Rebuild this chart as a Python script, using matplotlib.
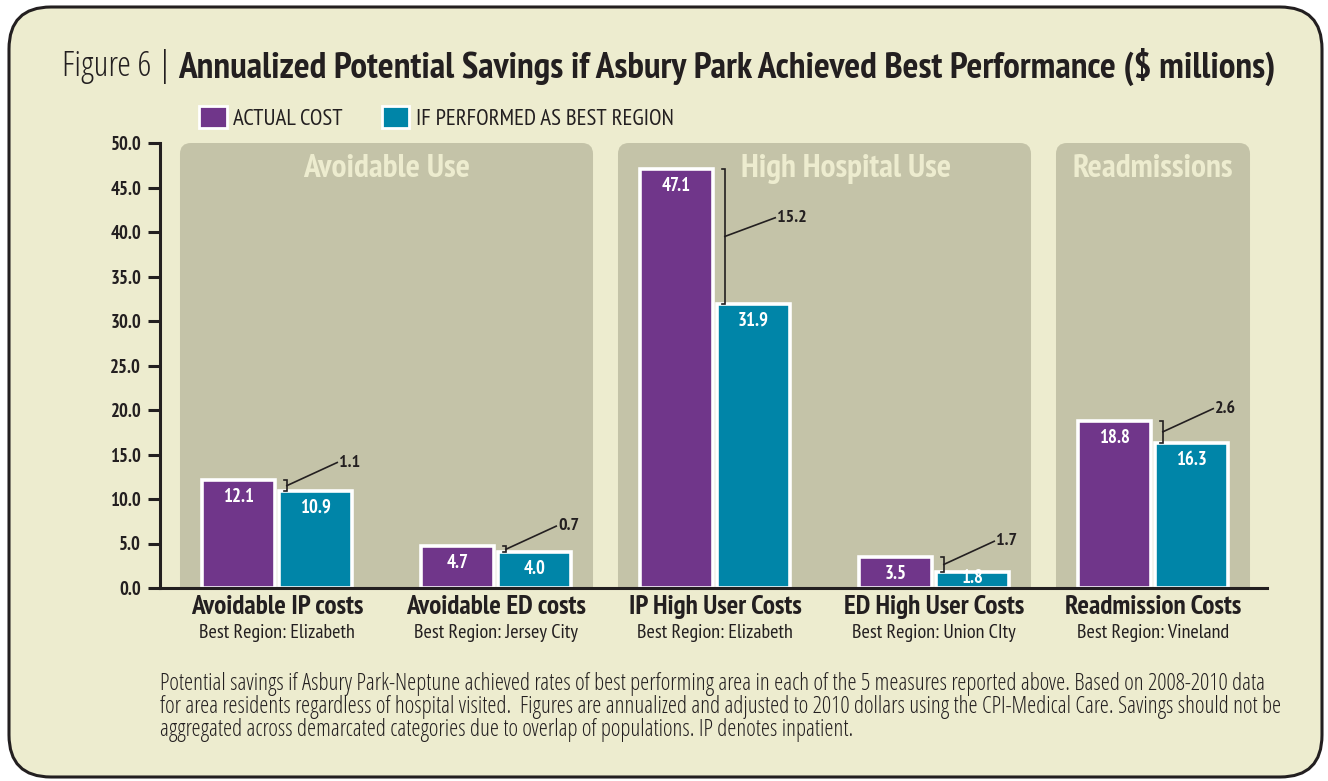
import matplotlib
matplotlib.use("Agg")
import matplotlib.pyplot as plt
from matplotlib.patches import FancyBboxPatch, Patch
import numpy as np

categories = ["Avoidable IP costs", "Avoidable ED costs", "IP High User Costs",
              "ED High User Costs", "Readmission Costs"]
best_regions = ["Best Region: Elizabeth", "Best Region: Jersey City", "Best Region: Elizabeth",
                "Best Region: Union CIty", "Best Region: Vineland"]
actual_cost = [12.1, 4.7, 47.1, 3.5, 18.8]
best_cost = [10.9, 4.0, 31.9, 1.8, 16.3]
savings = [1.1, 0.7, 15.2, 1.7, 2.6]
panel_titles = ["Avoidable Use", "High Hospital Use", "Readmissions"]
panel_ranges = [(0, 1), (2, 3), (4, 4)]
yticks = [0, 5, 10, 15, 20, 25, 30, 35, 40, 45, 50]
legend_labels = ["ACTUAL COST", "IF PERFORMED AS BEST REGION"]
title_prefix = "Figure 6 | "
title_main = "Annualized Potential Savings if Asbury Park Achieved Best Performance ($ millions)"
footnote_lines = [
    "Potential savings if Asbury Park-Neptune achieved rates of best performing area in each of the 5 measures reported above. Based on 2008-2010 data",
    "for area residents regardless of hospital visited.  Figures are annualized and adjusted to 2010 dollars using the CPI-Medical Care. Savings should not be",
    "aggregated across demarcated categories due to overlap of populations. IP denotes inpatient.",
]

PURPLE = "#70368A"
TEAL = "#0085A8"
BG = "#EDECCF"
PANEL = "#C4C3A8"
DARK = "#231F20"
NARROW = ["PT Sans Narrow", "DejaVu Sans"]
LIGHTC = dict(family=["Open Sans", "DejaVu Sans"], fontstretch="condensed", fontweight="light")

W, H = 1328, 781
fig = plt.figure(figsize=(W / 100, H / 100), dpi=100)
fig.patch.set_facecolor("white")
renderer = fig.canvas.get_renderer()


def fit_width(txt, target_px):
    bb = txt.get_window_extent(renderer=renderer)
    txt.set_fontsize(txt.get_fontsize() * target_px / bb.width)


# background frame in pixel coordinates
bg = fig.add_axes([0, 0, 1, 1], zorder=-10)
bg.set_xlim(0, W)
bg.set_ylim(0, H)
bg.axis("off")
bg.add_patch(FancyBboxPatch((9, 4), W - 15, H - 11,
                            boxstyle="round,pad=0,rounding_size=42",
                            facecolor=BG, edgecolor=DARK, linewidth=2.2))

# main axes
x0_px, x1_px = 160, 1267
ytop_px, ybot_px = 143, 588
ax = fig.add_axes([x0_px / W, 1 - ybot_px / H, (x1_px - x0_px) / W, (ybot_px - ytop_px) / H])
ax.set_facecolor("none")
cat_px0, cat_step = 277, 219
ax.set_xlim((x0_px - cat_px0) / cat_step, (x1_px - cat_px0) / cat_step)
ax.set_ylim(0, 50)

x = np.arange(len(categories))
bw = 0.335
off = 0.175

# panels with rounded tops
px_per_y = (ybot_px - ytop_px) / 50.0
aspect = cat_step / px_per_y
for title, (a, b) in zip(panel_titles, panel_ranges):
    left = a - 0.443
    right = b + 0.443
    ax.add_patch(FancyBboxPatch((left, -10), right - left, 60,
                                boxstyle="round,pad=0,rounding_size=0.05",
                                mutation_aspect=aspect,
                                facecolor=PANEL, edgecolor="none", zorder=0))
    tx = (left + right) / 2
    if a == 2:
        tx = 2.6
    ax.text(tx, 47.1, title, ha="center", va="center", color=BG,
            fontsize=24, fontweight="bold", family=NARROW, zorder=1)

ax.bar(x - off, actual_cost, bw, color=PURPLE, edgecolor="white", linewidth=2.6, zorder=3)
ax.bar(x + off, best_cost, bw, color=TEAL, edgecolor="white", linewidth=2.6, zorder=3)

for xi, v in zip(x, actual_cost):
    ax.text(xi - off, max(v - 1.9, 1.1), f"{v:.1f}", ha="center", va="center",
            color="white", fontsize=13.5, fontweight="bold", family=NARROW, zorder=4)
for xi, v in zip(x, best_cost):
    ax.text(xi + off, max(v - 1.9, 1.1), f"{v:.1f}", ha="center", va="center",
            color="white", fontsize=13.5, fontweight="bold", family=NARROW, zorder=4)

# savings brackets
for xi, a, b, s in zip(x, actual_cost, best_cost, savings):
    bx = xi + 0.045
    hook = 0.015
    ax.plot([bx - hook, bx, bx, bx - hook], [a, a, b, b], color=DARK, lw=1.2,
            solid_joinstyle="miter", zorder=4)
    mid = (a + b) / 2
    ly = mid + 2.6 if s < 10 else mid + 2.1
    lx = bx + 0.23
    ax.plot([bx, lx], [mid, ly], color=DARK, lw=1.2, zorder=4)
    ax.text(lx + 0.01, ly, f"{s:.1f}", ha="left", va="center", color=DARK,
            fontsize=13, fontweight="bold", family=NARROW, zorder=4)

# axes styling
for sp in ["top", "right"]:
    ax.spines[sp].set_visible(False)
for sp in ["left", "bottom"]:
    ax.spines[sp].set_linewidth(2.2)
    ax.spines[sp].set_color(DARK)
    ax.spines[sp].set_zorder(5)
ax.set_yticks(yticks)
ax.set_yticklabels([f"{t:.1f}" for t in yticks], family=NARROW, fontsize=13.5,
                   fontweight="bold", color=DARK)
ax.tick_params(axis="y", direction="out", length=8.5, width=2.2, color=DARK, pad=5)
ax.set_xticks(x)
ax.set_xticklabels([])
ax.tick_params(axis="x", length=0)

for xi, c, r in zip(x, categories, best_regions):
    ax.text(xi, -0.8, c, ha="center", va="top", fontsize=19.5, fontweight="bold",
            family=NARROW, color=DARK, clip_on=False)
    ax.text(xi, -4.0, r, ha="center", va="top", fontsize=14.5, family=NARROW,
            color=DARK, clip_on=False)

# legend
handles = [Patch(facecolor=PURPLE, edgecolor="white", linewidth=2),
           Patch(facecolor=TEAL, edgecolor="white", linewidth=2)]
fig.legend(handles, legend_labels, loc="center left",
           bbox_to_anchor=(199 / W, 1 - 118 / H), ncol=2, frameon=False,
           borderpad=0, borderaxespad=0,
           prop={"family": NARROW, "size": 16.5}, handlelength=1.2, handleheight=1.05,
           handletextpad=0.3, columnspacing=1.7, labelcolor=DARK)

# title
t1 = fig.text(62 / W, 1 - 67 / H, title_prefix, ha="left", va="center", fontsize=21,
              color=DARK, **LIGHTC)
fit_width(t1, 116)
bb = t1.get_window_extent(renderer=renderer)
t2 = fig.text(bb.x1 / W, 1 - 67 / H, title_main, ha="left", va="center", fontsize=20,
              fontweight="bold", family=NARROW, color=DARK)
fit_width(t2, 1278 - bb.x1)

# footnote
ref = None
for i, line in enumerate(footnote_lines):
    t = fig.text(160 / W, 1 - (684 + 23 * i) / H, line, ha="left", va="center",
                 fontsize=12, color=DARK, **LIGHTC)
    if i == 0:
        fit_width(t, 1088)
        ref = t.get_fontsize()
    else:
        t.set_fontsize(ref)

fig.savefig("out.png", dpi=100, facecolor="white")
